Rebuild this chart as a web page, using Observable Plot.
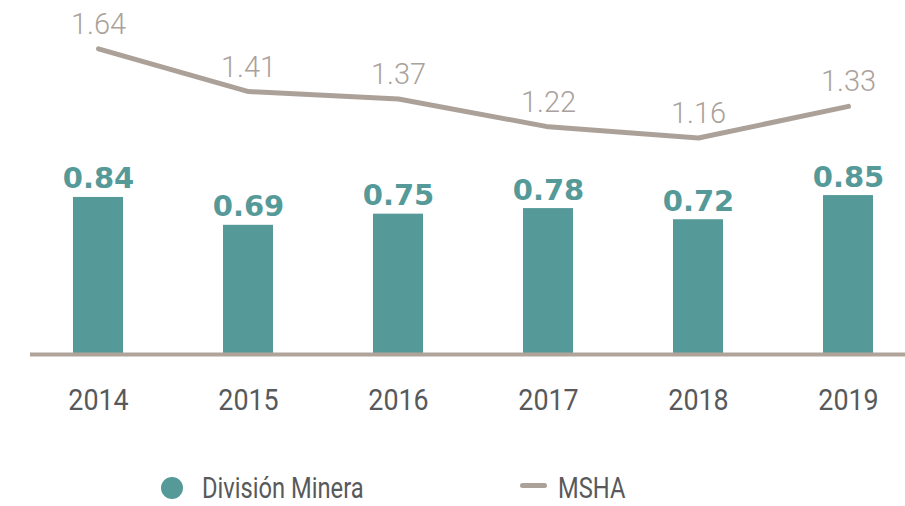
<!DOCTYPE html>
<html><head><meta charset="utf-8">
<script src="https://cdn.jsdelivr.net/npm/d3@7"></script>
<script src="https://cdn.jsdelivr.net/npm/@observablehq/plot@0.6"></script>
<style>
body{margin:0;background:#fff;}
#chart{width:905px;}
.legend{position:relative;width:905px;height:50px;font-family:Roboto,sans-serif;color:#58595b;}
.lt{position:absolute;top:17px;font-size:30px;line-height:30px;transform:scaleX(0.79);transform-origin:left center;white-space:nowrap;}
</style></head><body>
<div id="chart"></div>
<div class="legend">
 <span style="position:absolute;left:161px;top:21px;width:22px;height:22px;border-radius:50%;background:#559a99"></span>
 <span class="lt" style="left:202px">División Minera</span>
 <span style="position:absolute;left:520px;top:27px;width:27px;height:5px;border-radius:3px;background:#aca199"></span>
 <span class="lt" style="left:558px">MSHA</span>
</div>
<script>
const years = ["2014", "2015", "2016", "2017", "2018", "2019"];
const division = [0.84, 0.69, 0.75, 0.78, 0.72, 0.85];
const msha = [1.64, 1.41, 1.37, 1.22, 1.16, 1.33];
const data = years.map((y, i) => ({year: y, division: division[i], msha: msha[i]}));

const plot = Plot.plot({
  width: 905, height: 456,
  marginLeft: 30, marginRight: 0, marginTop: 0, marginBottom: 103,
  x: {domain: years, range: [41, 905], paddingInner: 0.667, paddingOuter: 0.2133, label: null},
  y: {domain: [0, 1.9], axis: null},
  style: {background: "transparent", color: "#58595b", fontFamily: "Roboto"},
  marks: [
    Plot.barY(data, {x: "year", y: "division", fill: "#559a99"}),
    Plot.ruleY([0], {stroke: "#afa39a", strokeWidth: 4, dy: 1}),
    Plot.line(data, {x: "year", y: "msha", stroke: "#aca199", strokeWidth: 5, strokeLinecap: "round", strokeLinejoin: "round"}),
    Plot.text(data, {x: "year", y: "division", text: d => d.division.toFixed(2), lineAnchor: "bottom", dy: -9, fill: "#559a99", fontSize: 29, fontWeight: "bold", fontFamily: "DejaVu Sans"}),
    Plot.text(data, {x: "year", y: "msha", text: d => d.msha.toFixed(2), lineAnchor: "bottom", dy: -15, fill: "#aaa19a", fontSize: 29, fontWeight: 300, fontFamily: "Roboto", ariaLabel: "msha-labels"}),
    Plot.axisX({tickSize: 0, tickPadding: 36, fontSize: 29.5, fontFamily: "Roboto"})
  ]
});
document.getElementById("chart").appendChild(plot);

// condense the light label faces horizontally, as in the reference typography
function condense(selector, k) {
  d3.select(plot).selectAll(selector).each(function () {
    const t = this.getAttribute("transform") || "";
    this.setAttribute("transform", t + ` scale(${k},1)`);
  });
}
condense('g[aria-label="msha-labels"] text', 0.9);
condense('g[aria-label="x-axis tick label"] text', 0.91);
</script>
</body></html>
